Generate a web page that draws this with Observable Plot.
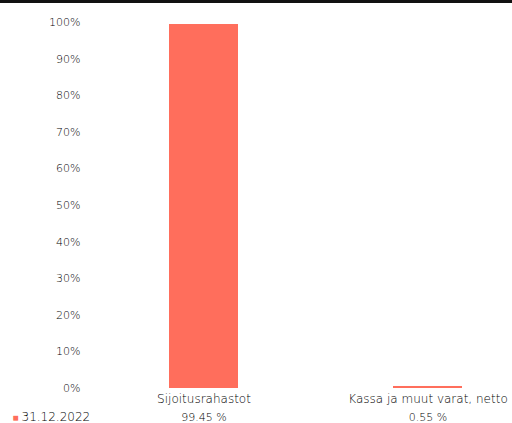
<!DOCTYPE html>
<html>
<head>
<meta charset="utf-8">
<script src="https://cdn.jsdelivr.net/npm/d3@7"></script>
<script src="https://cdn.jsdelivr.net/npm/@observablehq/plot@0.6"></script>
<style>
  html, body { margin: 0; padding: 0; background: #fff; }
  #wrap { position: relative; width: 512px; height: 423px; overflow: hidden; }
  #topline { position: absolute; left: 0; top: 0; width: 512px; height: 3px; background: #111; }
  #chart { position: absolute; left: 0; top: 0; }
  #chart text { font-weight: 200; }
</style>
</head>
<body>
<div id="wrap">
  <div id="chart"></div>
  <div id="topline"></div>
</div>
<script>
const categories = ["Sijoitusrahastot", "Kassa ja muut varat, netto"];
const values = [99.45, 0.55];
const valueLabels = ["99.45 %", "0.55 %"];
const seriesName = "31.12.2022";
const yTicks = [0, 10, 20, 30, 40, 50, 60, 70, 80, 90, 100];

const data = categories.map((c, i) => ({ category: c, value: values[i], label: valueLabels[i] }));
const color = "#FF6E5C";
const textColor = "#000000";
const font = "'DejaVu Sans', sans-serif";

const chart = Plot.plot({
  width: 512,
  height: 423,
  marginTop: 22,
  marginBottom: 35,
  marginLeft: 124,
  marginRight: 4,
  style: { fontFamily: font, fontSize: "11px", color: textColor, background: "transparent" },
  x: { domain: categories, paddingInner: 0.69, paddingOuter: 0.2 },
  y: { domain: [0, 100] },
  marks: [
    Plot.barY(data, { x: "category", y: "value", fill: color }),
    Plot.axisY({ ticks: yTicks, tickSize: 0, tickPadding: 44, tickFormat: d => d + "%", label: null, fill: textColor, fontSize: 11 }),
    Plot.axisX({ tickSize: 0, tickPadding: 6, label: null, fill: textColor, fontSize: 12 }),
    Plot.text(data, { x: "category", text: "label", frameAnchor: "bottom", dy: 32, fill: textColor, fontSize: 11 }),
    Plot.text([seriesName], { text: d => "■", frameAnchor: "bottom-left", dx: -112, dy: 32, fill: color, fontSize: 10, textAnchor: "start" }),
    Plot.text([seriesName], { text: d => d, frameAnchor: "bottom-left", dx: -103, dy: 32, fill: textColor, fontSize: 12, textAnchor: "start" })
  ]
});
document.getElementById("chart").appendChild(chart);
</script>
</body>
</html>
